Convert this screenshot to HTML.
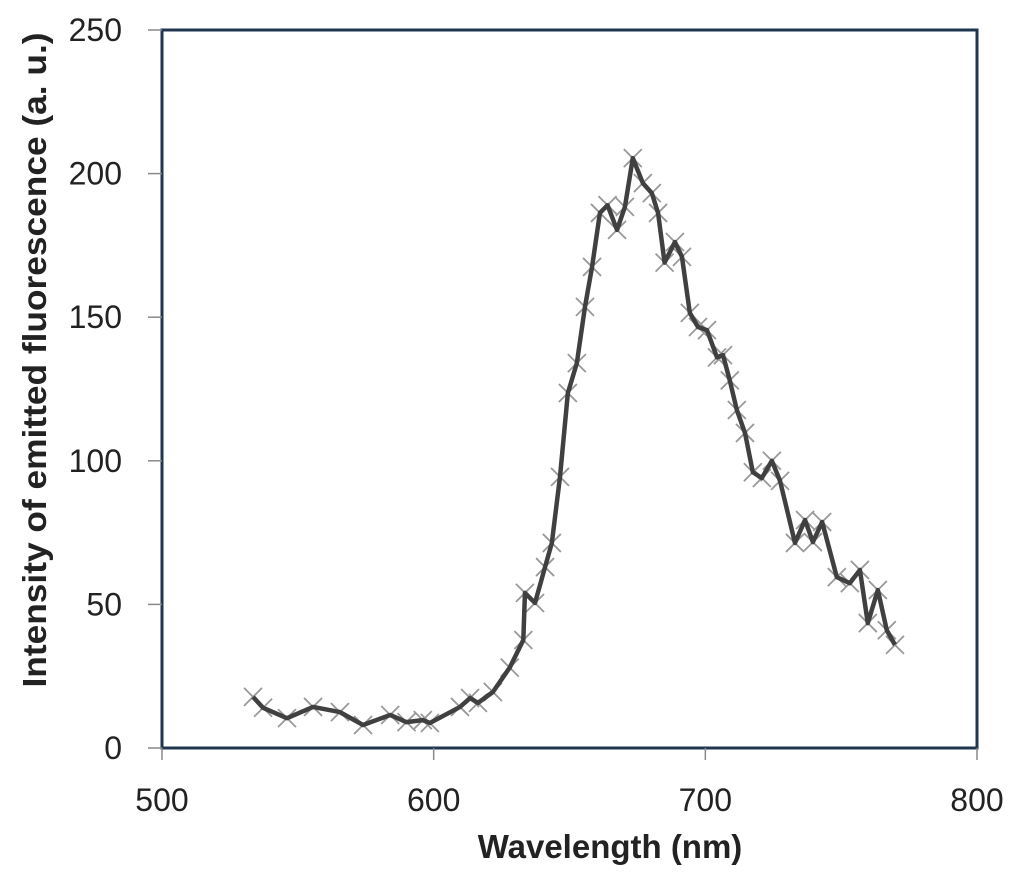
<!DOCTYPE html>
<html><head><meta charset="utf-8"><style>
html,body{margin:0;padding:0;background:#fff;}
svg{display:block;font-family:"Liberation Sans",sans-serif;}
</style></head><body>
<svg id="chart" width="1024" height="881">
<g id="axes"></g><g id="series"></g>
</svg>
<script>
const wavelengths=[533.5,537.2,546,555.6,565.5,574,584,590,596,598.6,609.7,613.4,616.3,621.8,628,633,633.6,637.3,641,643.5,646.5,649.4,652.7,655.7,658.3,661.2,664,667.5,670.4,673.3,677,680.3,682.6,685,688.8,691.4,694.3,697.3,700.6,704.3,706.5,709,711.6,714.6,717.5,720.8,724.5,727.5,733,736.7,739.6,743,748.4,753.2,756.9,759.8,763.5,766.8,769.8];
const intensities=[17.8,14,10.4,14.3,12.5,8,11.5,9,9.7,8.7,14.3,17.4,15.7,19.5,28,37.6,54,50.5,63,71.4,94.4,123.6,134,153.6,167.5,186.3,189,180.4,188.4,205.4,196.7,193.2,186.3,169,176.2,171,151.5,146.6,145.5,136,136.8,128,117.7,109.7,96,94,100,93,71.4,79.4,71.7,78.7,59.5,57.4,62,43.5,55,41,35.9];
const xTicks=[500,600,700,800];
const yTicks=[0,50,100,150,200,250];
const X0=162,X1=977,Y0=748,Y1=30;
const xs=v=>X0+(v-500)/300*(X1-X0);
const ys=v=>Y0-v/250*(Y0-Y1);
const NS="http://www.w3.org/2000/svg";
const ax=document.getElementById('axes'),se=document.getElementById('series');
function mk(p,tag,at){const e=document.createElementNS(NS,tag);for(const k in at)e.setAttribute(k,at[k]);p.appendChild(e);return e;}
const fr=mk(ax,'rect',{x:X0,y:Y1,width:X1-X0,height:Y0-Y1,fill:'none',stroke:'#1f3550','stroke-width':3});


yTicks.forEach(v=>{
 const t=mk(ax,'line',{x1:X0-14,x2:X0,y1:ys(v),y2:ys(v),stroke:'#888','stroke-width':1.5});
 
 
 const l=mk(ax,'text',{x:122,y:ys(v)+11,'text-anchor':'end','font-size':32,fill:'#222'});
 l.textContent=v;
 
 
});
xTicks.forEach(v=>{
 const t=mk(ax,'line',{x1:xs(v),x2:xs(v),y1:Y0,y2:Y0+12,stroke:'#888','stroke-width':1.5});
 
 
 const l=mk(ax,'text',{x:xs(v),y:811,'text-anchor':'middle','font-size':32,fill:'#222'});
 l.textContent=v;
 
 
});
const xt=mk(ax,'text',{x:610,y:858,'text-anchor':'middle','font-size':33,'font-weight':'bold',fill:'#222'});
xt.textContent='Wavelength (nm)';


const yt=mk(ax,'text',{x:0,y:0,'text-anchor':'middle','font-size':33,'font-weight':'bold',fill:'#222',textLength:655,lengthAdjust:'spacingAndGlyphs',transform:'translate(46,360) rotate(-90)'});
yt.textContent='Intensity of emitted fluorescence (a. u.)';


wavelengths.forEach((w,i)=>{
 const cx=xs(w),cy=ys(intensities[i]),r=9;
 const m=mk(se,'path',{d:`M${cx-r},${cy-r}L${cx+r},${cy+r}M${cx-r},${cy+r}L${cx+r},${cy-r}`,stroke:'#999','stroke-width':1.8,fill:'none'});
 
 
});
const pl=mk(se,'polyline',{points:wavelengths.map((w,i)=>xs(w)+','+ys(intensities[i])).join(' '),fill:'none',stroke:'#404040','stroke-width':4.5,'stroke-linejoin':'round'});


</script>
</body></html>
